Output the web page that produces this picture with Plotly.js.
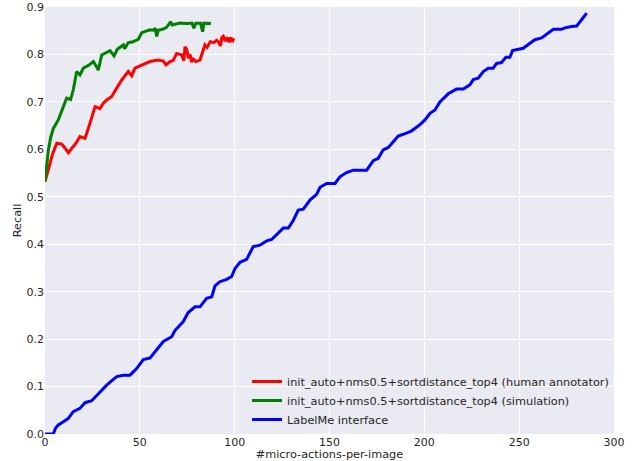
<!DOCTYPE html>
<html>
<head>
<meta charset="utf-8">
<script src="https://cdn.plot.ly/plotly-3.0.1.min.js"></script>
<style>html,body{margin:0;padding:0;background:#fff;}#chart{width:634px;height:461px;}</style>
</head>
<body>
<div id="chart"></div>
<script>
const redX = [0,2,4,6.2,8.8,10.5,12.3,14.9,16.5,18.4,21.1,23.7,26.4,29,30.7,32.5,35.1,37.8,40.4,43.9,45.7,47.4,51.8,55.3,59.7,62.4,63.8,65.9,67.5,69.4,72.1,73.2,73.8,74.8,75.6,76.5,77.2,78.2,79.5,81.7,84.3,85.5,87.1,89,90.5,91.5,92.5,93.2,94,95,96,97,98,98.8,99.5];
const redY = [0.532,0.56,0.59,0.613,0.611,0.603,0.593,0.606,0.614,0.627,0.623,0.655,0.690,0.686,0.697,0.704,0.711,0.729,0.746,0.764,0.755,0.771,0.778,0.785,0.788,0.786,0.778,0.785,0.787,0.802,0.799,0.787,0.816,0.810,0.792,0.800,0.784,0.790,0.785,0.788,0.820,0.815,0.827,0.825,0.830,0.826,0.818,0.835,0.838,0.828,0.836,0.826,0.836,0.826,0.834];

const greenX = [0,0.8,1.8,3,4.4,7,8.5,9.7,11.4,13.5,14.9,16.7,18.4,20.2,23,25.5,27,28.1,29.9,34.3,36.4,38.1,41.3,42,43.9,46,49.2,51,55.3,57,58.2,58.9,59.7,62,64.1,66.3,67,68.5,71.2,75,77.5,78.5,79.5,82,83.1,83.8,86,87.5];
const greenY = [0.532,0.57,0.599,0.625,0.644,0.662,0.680,0.690,0.708,0.705,0.725,0.764,0.757,0.771,0.777,0.785,0.775,0.767,0.799,0.808,0.797,0.811,0.820,0.812,0.825,0.826,0.832,0.846,0.852,0.851,0.855,0.838,0.851,0.853,0.857,0.869,0.862,0.864,0.866,0.865,0.866,0.855,0.866,0.866,0.848,0.866,0.866,0.865];

const blueX = [0,4.4,5.5,7,9.7,12.3,14.9,18.4,21.1,24.6,27,29.9,32.5,35.1,37.8,41.3,44.8,48.3,51.8,55.3,58,62.4,66.8,68.5,72.9,75.5,79.1,81.7,85.2,87.9,89.6,92.2,95.8,98.4,100.2,102.8,106.3,109.8,113.3,116.9,119.5,123,125.6,128.3,130.9,133.5,136.2,139.7,143.2,145,148.5,152.9,155.5,159,162.5,169.6,173.1,175.7,178.3,181,183.6,186.2,190.6,193.3,197.7,200.3,203,205.6,208.2,212.6,217,220.5,224,225.8,228.4,231.1,233.7,236.3,238.1,240.7,243,245.1,246.5,249.5,252.1,254.8,258.3,261.8,265.3,268,272.4,274.1,277.6,280.3,282.9,285.6];
const blueY = [0,0,0.012,0.019,0.026,0.033,0.047,0.054,0.066,0.070,0.080,0.093,0.103,0.112,0.121,0.124,0.124,0.138,0.157,0.160,0.173,0.195,0.205,0.218,0.237,0.256,0.268,0.268,0.286,0.289,0.312,0.321,0.326,0.332,0.349,0.362,0.368,0.395,0.398,0.407,0.410,0.423,0.434,0.434,0.450,0.472,0.474,0.493,0.505,0.520,0.528,0.528,0.542,0.551,0.556,0.556,0.576,0.581,0.599,0.604,0.616,0.628,0.634,0.639,0.652,0.662,0.676,0.683,0.700,0.717,0.727,0.727,0.736,0.747,0.750,0.764,0.771,0.771,0.781,0.783,0.794,0.794,0.808,0.811,0.813,0.821,0.831,0.835,0.845,0.853,0.853,0.856,0.859,0.860,0.873,0.887];

const seriesNames = [
  "init_auto+nms0.5+sortdistance_top4 (human annotator)",
  "init_auto+nms0.5+sortdistance_top4 (simulation)",
  "LabelMe interface"
];
const xTitle = "#micro-actions-per-image";
const yTitle = "Recall";

const font = {family: "DejaVu Sans, sans-serif", size: 11, color: "#262626"};
const traces = [
  {x: redX, y: redY, name: seriesNames[0], mode: "lines", line: {color: "#ff0000", width: 3}},
  {x: greenX, y: greenY, name: seriesNames[1], mode: "lines", line: {color: "#008000", width: 3}},
  {x: blueX, y: blueY, name: seriesNames[2], mode: "lines", line: {color: "#0000ff", width: 3}}
];
const layout = {
  width: 634, height: 461,
  margin: {l: 45, r: 20, t: 7, b: 27, pad: 0},
  paper_bgcolor: "#ffffff",
  plot_bgcolor: "#EAEAF2",
  font: font,
  showlegend: true,
  legend: {x: 0.355, y: 0.0, xanchor: "left", yanchor: "bottom", bgcolor: "rgba(0,0,0,0)", font: {family: font.family, size: 11.3, color: "#262626"}, tracegroupgap: 0, itemwidth: 30},
  xaxis: {range: [0, 300], dtick: 50, tick0: 0, showgrid: true, gridcolor: "#ffffff", gridwidth: 1, zeroline: false, showline: false, ticks: "", tickfont: {size: 11}, title: {text: xTitle, font: {size: 11.3}, standoff: 2}},
  yaxis: {range: [0, 0.9], dtick: 0.1, tick0: 0, tickformat: ".1f", showgrid: true, gridcolor: "#ffffff", gridwidth: 1, zeroline: false, showline: false, ticks: "", tickfont: {size: 11}, title: {text: yTitle, font: {size: 11.3}, standoff: 2}}
};
Plotly.newPlot("chart", traces, layout, {displayModeBar: false, staticPlot: true});
</script>
</body>
</html>
